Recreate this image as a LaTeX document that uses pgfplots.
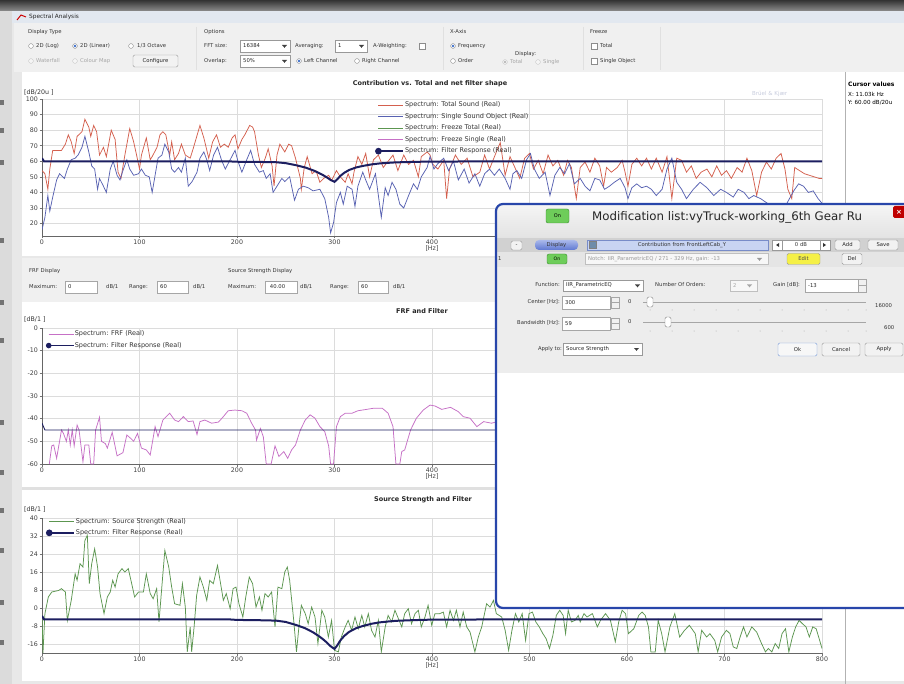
\documentclass[border=0pt]{standalone}
\usepackage{fontspec}
\setmainfont{DejaVu Sans}
\usepackage{pgfplots}
\pgfplotsset{compat=1.18}

\definecolor{cRed}{RGB}{212,96,78}
\definecolor{cBlue}{RGB}{88,98,178}
\definecolor{cGreen}{RGB}{92,150,80}
\definecolor{cPink}{RGB}{198,112,198}
\definecolor{cNavy}{RGB}{28,30,96}
\definecolor{cGrid}{RGB}{220,220,220}
\definecolor{cPanel}{RGB}{240,240,240}
\definecolor{cDlg}{RGB}{40,70,170}
\definecolor{rBlue}{RGB}{60,110,200}
\definecolor{onG}{RGB}{110,205,90}
\definecolor{onGd}{RGB}{60,140,50}
\definecolor{tbar}{RGB}{226,232,240}
\definecolor{bkC}{RGB}{200,205,222}
\definecolor{pillT}{RGB}{170,185,235}
\definecolor{pillB}{RGB}{95,120,210}
\definecolor{fldD}{RGB}{120,140,200}
\definecolor{fldF}{RGB}{200,212,242}
\definecolor{icoF}{RGB}{110,140,170}
\definecolor{edY}{RGB}{245,240,70}

\newcommand{\tf}{\fontsize{5.3}{6.3}\selectfont}
\newcommand{\radio}[3]{\draw[black!45,fill=white] (#1,#2) circle (2.4);\ifnum#3=1\relax\fill[rBlue] (#1,#2) circle (1.4);\fi}
\newcommand{\gradio}[3]{\draw[black!22,fill=black!4] (#1,#2) circle (2.4);\ifnum#3=1\relax\fill[black!28] (#1,#2) circle (1.4);\fi}
\newcommand{\chk}[2]{\draw[black!45,fill=white] ({#1-3},{#2-3}) rectangle ({#1+3},{#2+3});}
\newcommand{\lbl}[3]{\node[anchor=west,inner sep=0pt,font=\tf,text=black!80] at (#1,#2) {#3};}
\newcommand{\rlbl}[3]{\node[anchor=east,inner sep=0pt,font=\tf,text=black!80] at (#1,#2) {#3};}
\newcommand{\glbl}[3]{\node[anchor=west,inner sep=0pt,font=\tf,text=black!35] at (#1,#2) {#3};}
\newcommand{\btn}[5]{\draw[black!40,fill=black!5,rounded corners=1.5pt] (#1,#2) rectangle (#3,#4); \node[font=\tf,text=black!85,inner sep=0pt] at ({(#1+#3)/2},{(#2+#4)/2}) {#5};}
\newcommand{\dd}[5]{\draw[black!40,fill=white] (#1,#2) rectangle (#3,#4); \node[anchor=west,font=\tf,inner sep=0pt,text=black!85] at ({#1+3},{(#2+#4)/2}) {#5}; \fill[black!75] ({#3-8},{(#2+#4)/2-1}) -- ({#3-3},{(#2+#4)/2-1}) -- ({#3-5.5},{(#2+#4)/2+1.8}) -- cycle;}
\newcommand{\tbox}[5]{\draw[black!35,fill=white] (#1,#2) rectangle (#3,#4); \node[anchor=west,font=\tf,inner sep=0pt,text=black!85] at ({#1+3},{(#2+#4)/2}) {#5};}
\newcommand{\spin}[4]{\draw[black!35,fill=black!6] (#1,#2) rectangle (#3,#4); \draw[black!35] (#1,{(#2+#4)/2}) -- (#3,{(#2+#4)/2});}

\pgfplotsset{myax/.style={
  scale only axis, width=780pt, xmin=0, xmax=800,
  xtick={0,100,...,800},
  axis lines=left, axis line style={-, draw=black!60, line width=0.8pt},
  grid=major, major grid style={cGrid, line width=0.5pt},
  tick align=outside, major tick length=2.5pt, tick style={black!55, line width=0.6pt},
  ticklabel style={font=\fontsize{6.3}{7}\selectfont, text=black!75},
  /pgf/number format/assume math mode=true,
  xlabel={[Hz]}, xlabel style={font=\fontsize{6.3}{7}\selectfont, text=black!75, inner sep=0pt, yshift=1pt},
  xticklabel style={inner sep=1.5pt}, yticklabel style={inner sep=1.5pt},
  legend cell align=left,
  legend style={draw=none, fill=none, font=\fontsize{6.5}{7.5}\selectfont, text=black!80, row sep=3.9pt, nodes={inner sep=0.6pt}},
  legend image code/.code={\draw[##1] (0pt,0pt) -- (25pt,0pt);},
},
dotlegend/.style={legend image code/.code={\draw[##1] (0pt,0pt) -- (25pt,0pt); \fill[cNavy] (0pt,0pt) circle (2.3pt);}}}

\begin{document}
\begin{tikzpicture}
\useasboundingbox (0pt,0pt) rectangle (904pt,-684pt);
% ---------------- window background ----------------
\begin{scope}[x=1pt,y=-1pt]
\fill[white] (0,0) rectangle (904,684);
\shade[top color=black!80, bottom color=black!45] (0,0) rectangle (904,11);
\fill[black!14] (0,11) rectangle (12,684);
\foreach \yy in {100,128,160,238,300,338,420,470,508,548,600,640} {\fill[black!55] (0,\yy) rectangle (4,{\yy+5});}
\fill[black!9] (12,11) rectangle (904,684);
\fill[tbar] (12,11) rectangle (904,23);
\draw[red!80!black, line width=1pt] (17,20) -- (21,15) -- (26,17);
\node[anchor=west,inner sep=0pt,font=\fontsize{5.8}{7}\selectfont,text=black!85] at (29,17) {Spectral Analysis};
\fill[cPanel] (14,23) rectangle (904,72);
\foreach \xx in {196,443,583,660} {\draw[black!12] (\xx,27) -- (\xx,70);}
% Display type
\lbl{28}{32}{Display Type}
\radio{31}{46}{0}\lbl{36}{46}{2D (Log)}
\radio{75}{46}{1}\lbl{80}{46}{2D (Linear)}
\radio{131}{46}{0}\lbl{137}{46}{1/3 Octave}
\gradio{31}{61}{0}\glbl{36}{61}{Waterfall}
\gradio{75}{61}{0}\glbl{80}{61}{Colour Map}
\btn{133}{55}{178}{67}{Configure}
% Options
\lbl{204}{32}{Options}
\lbl{204}{46}{FFT size:}
\dd{240}{40}{290}{52}{16384}
\lbl{295}{46}{Averaging:}
\dd{335}{40}{367}{52}{1}
\lbl{373}{46}{A-Weighting:}
\chk{422}{46}
\lbl{204}{61}{Overlap:}
\dd{240}{55}{290}{67}{50\%}
\radio{299}{61}{1}\lbl{304}{61}{Left Channel}
\radio{357}{61}{0}\lbl{362}{61}{Right Channel}
% X-axis
\lbl{450}{32}{X-Axis}
\radio{453}{46}{1}\lbl{458}{46}{Frequency}
\radio{453}{61}{0}\lbl{458}{61}{Order}
\lbl{515}{54}{Display:}
\gradio{505}{62}{1}\glbl{510}{62}{Total}
\gradio{538}{62}{0}\glbl{543}{62}{Single}
% Freeze
\lbl{590}{32}{Freeze}
\chk{594}{46}\lbl{600}{46}{Total}
\chk{594}{61}\lbl{600}{61}{Single Object}
% plot areas
\fill[white] (22,72) rectangle (904,256);
\fill[cPanel] (22,258) rectangle (904,302);
\fill[white] (22,302) rectangle (904,487);
\fill[black!12] (22,487) rectangle (904,490);
\fill[white] (22,490) rectangle (904,681);
\draw[black!30] (845,72) -- (845,684);
% cursor values
\node[anchor=west,inner sep=0pt,font=\bfseries\fontsize{6}{7}\selectfont] at (848,84) {Cursor values};
\node[anchor=west,inner sep=0pt,font=\fontsize{5.6}{7}\selectfont] at (848,94) {X: 11.03k Hz};
\node[anchor=west,inner sep=0pt,font=\fontsize{5.6}{7}\selectfont] at (848,103) {Y: 60.00 dB/20u};
% titles
\node[inner sep=0pt,font=\bfseries\fontsize{6.5}{7.5}\selectfont,text=black!85] at (430,84) {Contribution vs. Total and net filter shape};
\node[inner sep=0pt,font=\bfseries\fontsize{6.5}{7.5}\selectfont,text=black!85] at (422,311) {FRF and Filter};
\node[inner sep=0pt,font=\bfseries\fontsize{6.5}{7.5}\selectfont,text=black!85] at (423,500) {Source Strength and Filter};
\node[anchor=west,inner sep=0pt,font=\fontsize{6.3}{7}\selectfont,text=black!80] at (24,93) {[dB/20u ]};
\node[anchor=west,inner sep=0pt,font=\fontsize{6.3}{7}\selectfont,text=black!80] at (24,320) {[dB/1 ]};
\node[anchor=west,inner sep=0pt,font=\fontsize{6.3}{7}\selectfont,text=black!80] at (24,510) {[dB/1 ]};
\node[anchor=west,inner sep=0pt,font=\fontsize{5.5}{7}\selectfont,text=bkC] at (752,94) {Brüel \& Kjær};
% FRF / source display panel
\lbl{29}{271}{FRF Display}
\lbl{29}{287}{Maximum:}\tbox{65}{281}{97}{293}{0}\lbl{106}{287}{dB/1}
\lbl{129}{287}{Range:}\tbox{157}{281}{188}{293}{60}\lbl{193}{287}{dB/1}
\lbl{228}{271}{Source Strength Display}
\lbl{228}{287}{Maximum:}\tbox{265}{281}{297}{293}{\,\,40.00}\lbl{300}{287}{dB/1}
\lbl{330}{287}{Range:}\tbox{358}{281}{388}{293}{60}\lbl{393}{287}{dB/1}
\end{scope}

% ---------------- top chart ----------------
\begin{axis}[myax, at={(42pt,-236pt)}, anchor=south west, height=137pt,
  ymin=12, ymax=100, ytick={20,30,...,100},
  xticklabels={0,100,200,300,400,{},{},{},{}},
  legend style={at={(0.423,1.0)}, anchor=north west}]
\addplot[cRed, line width=0.75pt] coordinates {(0,54)(3,52)(6,42)(8,55)(11,67)(15,67)(20,67)(24,71)(27,77)(30,72.5)(33,65)(36,76)(41,79)(44,87)(48,82)(50,76)(53,83)(56,79)(59,64)(63,69)(66,63)(71,80)(75,74)(78,53)(81,49)(85,64)(90,81)(94,72.5)(97,64)(100,55)(102,64)(107,75)(111,61)(113,63)(118,69)(121,77)(124,79)(127,77)(131,64)(133,72.5)(136,61)(140,65)(143,71)(147,64)(152,62)(155,68)(162,83)(166,75)(171,62)(175,72.5)(179,77)(183,69)(187,71)(191,69)(195,75)(198,77)(201,68)(205,74)(208,77)(213,83)(216,82)(218,79)(222,64)(225,56)(229,62)(232,68)(236,57)(238,44)(241,64)(244,71)(249,66)(253,71)(256,70)(260,62)(265,49)(266,42)(269,56)(272,63)(277,52)(281,54)(285,46.5)(289,49)(294,51)(297,47.6)(302,54)(306,50)(311,46.5)(314,52)(318,45.5)(320,53)(324,63)(328,58)(332,65)(336,50)(340,61)(345,64)(350,56)(355,60)(360,64)(365,54)(371,64)(376,58)(381,60.6)(386,50)(389,63)(395,66)(398,64)(401,58)(406,55)(412,60.6)(415,36)(418,55)(424,64)(430,58)(436,62)(442,50)(449,53)(454,64)(459,55)(466,66)(470,72)(475,51)(480,63)(485,56)(490,49)(495,62)(500,65)(504,55)(509,60.6)(514,52)(519,64)(524,57)(529,60.6)(535,51)(539,60.6)(543,56)(548,36)(552,56)(557,59.5)(562,53)(567,62)(572,57)(576,44)(579,56)(584,53)(590,56)(595,60.6)(598,53)(601,44)(605,58)(610,62)(615,57)(620,62)(625,55)(630,62)(636,53)(641,63)(646,36)(651,62)(656,60.6)(661,53)(666,57)(671,49)(676,53)(682,55)(687,50)(692,57)(697,51)(702,54)(707,49)(713,56)(718,53)(723,62)(728,54)(733,38)(738,53)(743,59.5)(748,55)(753,62)(758,65)(762,55)(765,42)(769,36)(772,56)(777,54)(782,52)(787,51)(792,50)(797,49)(800,49)};
\addlegendentry{Spectrum: Total Sound (Real)}
\addplot[cBlue, line width=0.75pt] coordinates {(0,16)(3,24)(6,38)(8,28)(11,37)(15,48)(18,52)(23,49)(26,55)(30,61)(34,62)(37,64)(41,69)(44,76)(48,66)(51,57)(54,55)(57,42)(59,49)(63,44)(66,40)(70,55)(73,60)(77,51)(80,48)(83,54)(87,61)(90,55)(94,51)(99,52)(102,55)(106,51)(110,50)(113,40)(116,51)(119,62)(123,64)(126,71)(130,66)(133,55)(136,53)(140,56)(143,53)(147,62)(150,44)(154,47)(159,53)(162,62)(166,66)(169,61)(172,54)(176,64)(180,69)(184,61)(188,55)(193,61)(198,67)(201,60)(205,53)(210,61)(214,67)(218,58)(223,53)(227,54)(230,49)(234,52)(237,40)(241,44)(246,49)(249,47)(254,50)(259,35)(263,42)(268,44)(273,43)(278,41)(285,42)(290,36)(294,24)(296,14)(299,20.5)(302,33.5)(306,40)(309,32.5)(313,44)(318,42)(321,31)(324,44)(329,53)(332,48)(336,42)(342,52)(345,38)(348,24)(352,43)(355,38)(359,46.5)(363,42)(367,32.5)(371,30)(376,38)(381,45.5)(385,42)(389,50)(395,56)(398,63)(402,55)(406,58.5)(412,62)(417,54)(422,60)(427,48)(433,55)(438,46)(444,52)(449,44)(454,52)(459,55)(464,51)(469,55)(475,49)(480,42)(483,52)(487,54)(492,49)(497,61)(501,65)(505,55)(510,49)(516,53)(521,38)(526,51)(531,56)(536,52)(541,58.5)(546,45.5)(552,49)(557,44)(562,41)(567,49)(572,48)(577,42)(582,44)(587,46.5)(593,49)(598,43)(601,36)(605,43)(610,45.5)(615,43)(620,44)(625,42)(630,38)(636,42)(641,55)(646,62)(651,46.5)(656,42)(661,36)(668,42)(675,46.5)(682,43)(689,38)(696,42)(702,40)(709,37)(714,42)(720,40)(725,36)(730,38)(737,36)(744,33)(750,32)(757,32)(764,33)(771,41)(776,45.5)(781,44)(786,40)(791,41)(796,36)(800,33)};
\addlegendentry{Spectrum: Single Sound Object (Real)}
\addlegendimage{cGreen, line width=0.75pt}
\addlegendentry{Spectrum: Freeze Total (Real)}
\addlegendimage{cPink, line width=0.75pt}
\addlegendentry{Spectrum: Freeze Single (Real)}
\addplot[cNavy, line width=2pt, dotlegend] coordinates {(0,62)(2,60)(190,60)(200,59.7)(220,59.6)(240,59.4)(250,58.8)(261,57.4)(270,56)(278,54.2)(284,52.5)(288,51.2)(292,49.7)(296,48)(300,46.8)(303,48.5)(306,50.6)(310,52.6)(315,54.4)(322,56)(329,57)(338,58)(346,58.6)(355,59)(363,59.3)(380,59.6)(397,59.8)(450,59.9)(800,60)};
\addlegendentry{Spectrum: Filter Response (Real)}
\end{axis}

% ---------------- middle chart ----------------
\begin{axis}[myax, at={(42pt,-464pt)}, anchor=south west, height=136pt,
  ymin=-60, ymax=0, ytick={-60,-50,...,0},
  xticklabels={0,100,200,300,400,{},{},{},{}},
  legend style={at={(0.001,1.0)}, anchor=north west}]
\addplot[cPink, line width=0.75pt] coordinates {(7.5,-60)(10,-52)(12,-51.6)(15,-57.5)(20,-45)(22,-46.5)(25,-50)(27,-45)(29,-51.6)(31,-45)(33,-52)(36,-42.8)(38,-45)(42,-59)(44,-51.6)(48,-51.6)(50,-60)(53,-60)(55,-45)(59,-39.4)(61,-50)(65,-51)(67,-53)(72,-46)(77,-56.4)(83,-55)(87,-47.2)(91,-48.7)(94,-50)(98,-46.5)(102,-53)(107,-53.8)(111,-56)(116,-43.5)(119,-47.9)(124,-40.6)(131,-37.6)(136,-40.6)(140,-41.3)(145,-39.1)(150,-41.3)(155,-41)(159,-47)(162,-41.3)(167,-40.6)(174,-42)(181,-41.5)(186,-39.1)(191,-36.5)(198,-36.2)(205,-36.5)(210,-37.6)(215,-42)(219,-45)(220,-49.5)(224,-44.3)(227,-48)(230,-60)(235,-60)(239,-52)(243,-56.7)(248,-54.5)(252,-57.5)(256,-53.8)(260,-51.6)(265,-45)(270,-40.6)(275,-38.3)(280,-39.8)(285,-43.5)(290,-45.7)(294,-52)(296,-60)(299,-60)(302,-43.5)(306,-39.1)(311,-37.6)(318,-37.6)(324,-36.5)(333,-35.9)(340,-35.4)(349,-35.4)(355,-37.6)(360,-43.5)(363,-60)(367,-60)(369,-54.5)(372,-53.8)(378,-45)(384,-39.8)(391,-36.2)(398,-34)(403,-34.4)(410,-35.9)(419,-35)(427,-36.9)(432,-39.1)(439,-39.8)(446,-43.5)(453,-41.3)(461,-42)(470,-41)};
\addlegendentry{Spectrum: FRF (Real)}
\addplot[cNavy, line width=0.9pt, dotlegend] coordinates {(0,-42)(3,-45)(800,-45)};
\addlegendentry{Spectrum: Filter Response (Real)}
\end{axis}

% ---------------- bottom chart ----------------
\begin{axis}[myax, at={(42pt,-653pt)}, anchor=south west, height=135pt,
  ymin=-20, ymax=40, ytick={-16,-8,...,40},
  legend style={at={(0.001,1.02)}, anchor=north west}]
\addplot[cGreen, line width=0.75pt] coordinates {(0,-3)(1,-20)(3,-2.5)(6.5,4.9)(10,7.1)(17,7.8)(20,8.6)(24,7.1)(26,-5.5)(30,3.4)(34,15.2)(36,12.3)(39,19.7)(42,18.2)(44,30)(46.5,32.3)(48.5,10.8)(51,19.7)(54,26.3)(57,18.2)(59.5,6.4)(63.6,-2.5)(67,4.9)(70,7.1)(72.5,12.3)(75,9.3)(78,15.2)(82,17.5)(85,16)(88.5,17.5)(92,10.8)(95,4.9)(99,7.1)(104,7.1)(107,15.2)(111,6.4)(114,4.1)(117.6,8.6)(120,-6.2)(124,15.2)(126,25.6)(130,18.2)(133,9.3)(136,1.9)(141.5,1.2)(144,10.8)(147,0.4)(149,-19.5)(152,-8.4)(153.5,-19.5)(156,-8.4)(158.6,5.6)(162,13.8)(165.5,9.3)(169,3.4)(172,12.3)(175.7,10.8)(180,18.9)(182.6,12.3)(186,3.4)(189,6.4)(193,-0.3)(196,8.6)(199,9.3)(202,1.9)(206,-4)(209,4.9)(212.6,13.8)(216,10.8)(219.5,0.4)(223,4.9)(225.6,-1)(228.7,6.4)(232,4.9)(235.5,7.1)(239,-8.4)(242,9.3)(246,8.6)(249,16)(251.6,18.2)(254,12.3)(258,-4.7)(261,-19.5)(264,-6.2)(266,1.2)(270,-2.5)(273,-7)(276.6,0.4)(280,-4)(283,-15.8)(287,-1)(290,-4)(293.7,-12.9)(297,-5.5)(300,-18.8)(304,-19.5)(307,-12.9)(311,-8.4)(314,-5.5)(317.6,-9.9)(321,-4)(324.4,-9.2)(328,-3.3)(331,-8.4)(334.7,-2.5)(338,-9.9)(341.5,-12.9)(345,-5.5)(348,-19.5)(352,-8.4)(355,-3.3)(358.6,-6.2)(362,-1)(365.5,-4.7)(369,-8.4)(372,-2.5)(375.7,-0.3)(379,-7)(382.6,-2.5)(386,-1)(389,-8.4)(392.8,-4)(396,1.2)(399.7,-7.7)(403,-2.5)(408,-2.5)(411.6,-1.8)(415,-8.4)(418.5,-1)(422,-5.5)(425,-1)(428.7,-8.4)(432,-1.8)(435.6,-8.4)(439,-10.7)(444,-19.5)(447.5,-12.9)(451,-8.4)(456,1.9)(459.5,0.4)(463,3.4)(466,-2.5)(471.5,-4)(475,-9.9)(478.6,-18.8)(482,-9.9)(485.6,-2.5)(489,-6.2)(492.5,-2.5)(496,-14.4)(499.5,-2.5)(503,-1.8)(506.5,-6.2)(510,-8.4)(513.7,-11.4)(517,-13.6)(520.5,-18)(524,-12.1)(527.5,-3.3)(531,-1)(534.5,-3.3)(537,-11.4)(539.7,-1)(543,-6.2)(546.7,-5.5)(550,-3.3)(552,-6.2)(555.9,-2.5)(559,-4)(564.5,-2.5)(569.6,-8.4)(572.8,-5.5)(578,-2.5)(583,-5.5)(588,-15)(591.5,-6.2)(595,-1)(598.5,-2.5)(601.5,-11.4)(607,-9.2)(612,-3.3)(615.5,-1.8)(618.7,-3.3)(622,-8.4)(624.5,-19.5)(629,-19.5)(632,-5.5)(635.6,-11.4)(639,-19.5)(644,-8.4)(649,-2.5)(654,-12.9)(659,-9.9)(664,-7.7)(670,-11.4)(673,-19.5)(676.6,-9.9)(681.7,-12.9)(685,-11.4)(690,-14.4)(693,-19.5)(697,-12.9)(702,-9.9)(705.6,-11.4)(709,-17.3)(712.6,-18)(716,-12.9)(719.5,-8.4)(723,-12.9)(728,-8.4)(733,-10.7)(738,-15.8)(742,-19.5)(745,-18)(748.6,-19.5)(752,-15.8)(755.6,-18)(759,-11.4)(762.6,-9.2)(766,-19.5)(769.6,-12.9)(773,-8.4)(776.5,-5.5)(780,-7)(783.6,-8.4)(787,-12.9)(790.5,-8.4)(794,-9.2)(797.6,-14.4)(800,-18)};
\addlegendentry{Spectrum: Source Strength (Real)}
\addplot[cNavy, line width=2pt, dotlegend] coordinates {(0,-3.5)(2,-5)(190,-5)(200,-5.3)(220,-5.4)(240,-5.6)(250,-6.2)(261,-7.6)(270,-9)(278,-10.8)(284,-12.5)(288,-13.8)(292,-15.3)(296,-17)(300,-18.2)(303,-16.5)(306,-14.4)(310,-12.4)(315,-10.6)(322,-9)(329,-8)(338,-7)(346,-6.4)(355,-6)(363,-5.7)(380,-5.4)(397,-5.2)(450,-5.1)(800,-5)};
\addlegendentry{Spectrum: Filter Response (Real)}
\end{axis}

% ---------------- modification dialog ----------------
\begin{scope}[x=1pt,y=-1pt]
\fill[white,rounded corners=7pt] (496,204) rectangle (930,608);
\begin{scope}
\clip[rounded corners=7pt] (496,204) rectangle (930,608);
\shade[top color=black!4, bottom color=black!11] (496,204) rectangle (930,238);
\fill[black!18] (496,238) rectangle (930,252);
\fill[black!10] (496,252) rectangle (930,267);
\draw[black!25] (496,267) -- (930,267);
\fill[black!7] (496,267.5) rectangle (930,373);
\end{scope}
\draw[cDlg,line width=2.2pt,rounded corners=7pt] (496,204) rectangle (930,608);
% title
\draw[onGd,fill=onG,rounded corners=2pt] (546,209) rectangle (569,223);
\node[font=\fontsize{5}{6}\selectfont,inner sep=0pt] at (557.5,216) {On};
\node[anchor=west,inner sep=0pt,font=\fontsize{11.8}{13}\selectfont,text=black!85] at (592,217.5) {Modification list:vyTruck-working\_6th Gear Ru};
\fill[red!75!black,rounded corners=1.5pt] (893,206) rectangle (906,218);
\node[font=\bfseries\fontsize{7}{8}\selectfont,text=white,inner sep=0pt] at (899,212) {×};
% row 1
\btn{511}{241}{522}{250}{-}
\shade[top color=pillT, bottom color=pillB,rounded corners=4pt] (535,240) rectangle (578,250);
\node[font=\tf,text=black!80,inner sep=0pt] at (556.5,245) {Display};
\draw[fldD,fill=fldF] (587,240) rectangle (768,250);
\draw[black!50,fill=icoF] (589,241.5) rectangle (596,248.5);
\node[font=\tf,text=black!80,inner sep=0pt] at (682,245) {Contribution from FrontLeftCab\_Y};
\draw[black!40,fill=white] (772,240) rectangle (830,250);
\draw[black!40] (782,240) -- (782,250); \draw[black!40] (820,240) -- (820,250);
\fill[black!80] (779,243) -- (779,247) -- (776,245) -- cycle;
\fill[black!80] (823,243) -- (823,247) -- (826,245) -- cycle;
\node[font=\tf,text=black!80,inner sep=0pt] at (801,245) {0 dB};
\btn{835}{240}{860}{250}{Add}
\btn{868}{240}{898}{250}{Save}
% row 2
\lbl{498}{259}{1}
\draw[onGd,fill=onG,rounded corners=2pt] (547,254) rectangle (567,264);
\node[font=\fontsize{4.6}{5.5}\selectfont,inner sep=0pt] at (557,259) {On};
\draw[black!25,fill=black!3] (585,253.5) rectangle (768,264.5);
\node[anchor=west,font=\tf,text=black!40,inner sep=0pt] at (588,259) {Notch: IIR\_ParametricEQ / 271 - 329 Hz, gain: -13};
\fill[black!40] (757,258) -- (762,258) -- (759.5,260.8) -- cycle;
\draw[black!40,fill=edY,rounded corners=1.5pt] (787,253.5) rectangle (820,264.5);
\node[font=\tf,text=black!70,inner sep=0pt] at (803.5,259) {Edit};
\btn{842}{253.5}{862}{264.5}{Del}
% parameters
\rlbl{560}{285}{Function:}
\dd{563}{280}{643}{291}{IIR\_ParametricEQ}
\lbl{655}{285}{Number Of Orders:}
\draw[black!25,fill=black!3] (730,280) rectangle (757,291);
\node[anchor=west,font=\tf,text=black!35,inner sep=0pt] at (733,285.5) {2};
\fill[black!35] (747,284.5) -- (752,284.5) -- (749.5,287.3) -- cycle;
\lbl{773}{285}{Gain [dB]:}
\tbox{805}{279}{858}{292}{-13}
\spin{858}{279}{866}{292}
\rlbl{560}{302}{Center [Hz]:}
\tbox{562}{296}{610}{309}{300}
\spin{611}{297}{619}{308}
\lbl{628}{302}{0}
\draw[black!35] (643,302) -- (866,302);
\foreach \tx in {650,672,694,716,738,760,782,804,826,848,866} {\fill[black!35] (\tx,310) circle (0.5);}
\draw[black!50,fill=white,rounded corners=1.5pt] (647,297) rectangle (653,307);
\lbl{875}{306}{16000}
\rlbl{560}{323}{Bandwidth [Hz]:}
\tbox{562}{317}{610}{330}{59}
\spin{611}{318}{619}{329}
\lbl{628}{322}{0}
\draw[black!35] (643,322) -- (866,322);
\foreach \tx in {650,672,694,716,738,760,782,804,826,848,866} {\fill[black!35] (\tx,331) circle (0.5);}
\draw[black!50,fill=white,rounded corners=1.5pt] (665,317) rectangle (671,327);
\lbl{884}{328}{600}
\rlbl{562}{349}{Apply to:}
\dd{563}{343}{642}{355}{Source Strength}
\draw[rBlue!70,fill=black!3,rounded corners=1.5pt] (778,343) rectangle (817,356);
\node[font=\tf,text=black!85,inner sep=0pt] at (797.5,349.5) {Ok};
\btn{822}{343}{860}{356}{Cancel}
\btn{865}{343}{903}{356}{Apply}
\end{scope}
\end{tikzpicture}
\end{document}
